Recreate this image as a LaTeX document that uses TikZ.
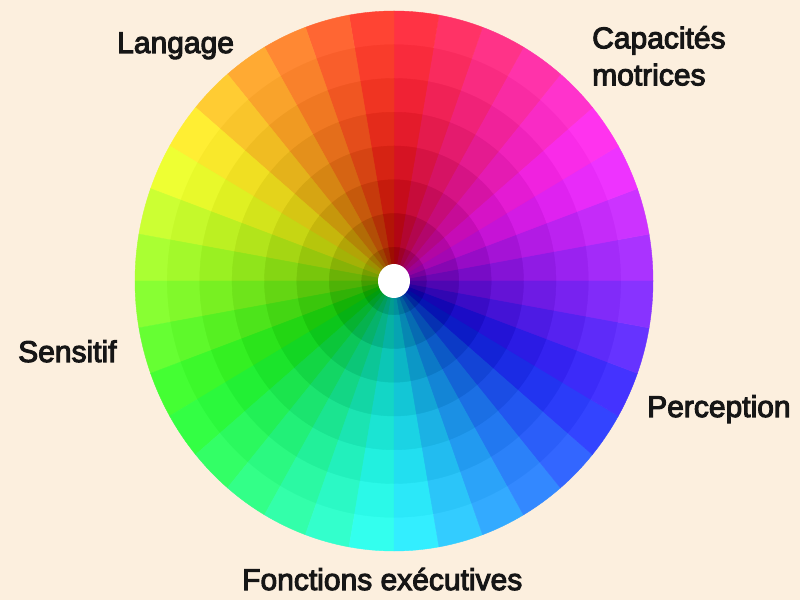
\documentclass[tikz,border=0pt]{standalone}
\usepackage{fontspec}
\newfontfamily\lblfont{Liberation Sans}[BoldFont={Liberation Sans}, BoldFeatures={FakeBold=3.5}]
\definecolor{bgc}{RGB}{252,239,222}
\definecolor{txt}{RGB}{22,22,22}
\tikzset{
  lbl/.style={font=\lblfont\bfseries\fontsize{30}{37}\selectfont, text=txt, inner sep=0pt},
}
\begin{document}
\begin{tikzpicture}[x=1pt,y=1pt]
\useasboundingbox (0,0) rectangle (800,600);
\fill[bgc] (0,0) rectangle (800,600);
\begin{scope}[shift={(394,319)}]
\foreach \k in {1,...,8}{
  \pgfmathsetmacro{\rxk}{259*(9-\k)/8}
  \pgfmathsetmacro{\ryk}{270*(9-\k)/8}
  \pgfmathsetmacro{\sat}{0.8+0.028*(\k-1)}
  \pgfmathsetmacro{\bri}{1-0.005*(\k-1)*(\k-1)-0.02*(\k-1)}
  \foreach \j in {0,...,35}{
    \pgfmathsetmacro{\a}{10*\j}
    \pgfmathsetmacro{\b}{10*\j+10}
    \pgfmathsetmacro{\h}{mod(10*\j+275,360)}
    \convertcolorspec{Hsb}{\h,\sat,\bri}{rgb}\wcspec
    \definecolor{wc}{rgb}{\wcspec}
    \fill[wc, draw=wc, line width=0.4pt] (0,0) -- (\a:\rxk pt and \ryk pt)
      arc[start angle=\a, end angle=\b, x radius=\rxk pt, y radius=\ryk pt] -- cycle;
  }
}
\fill[white] (0,0) ellipse[x radius=16pt, y radius=17pt];
\end{scope}
\node[lbl, anchor=base west] (lang) at (117,547) {Langage};
\node[lbl, anchor=north west, align=left] (cap) at (592,574) {Capacités\\motrices};
\node[lbl, anchor=base west] (sens) at (18,238) {Sensitif};
\node[lbl, anchor=base west] (perc) at (647,183) {Perception};
\node[lbl, anchor=base west] (fonc) at (242,10) {Fonctions exécutives};
\end{tikzpicture}
\end{document}
